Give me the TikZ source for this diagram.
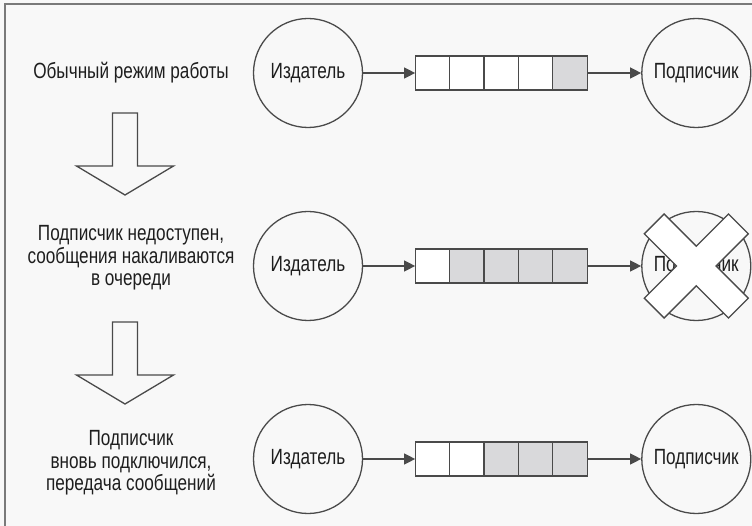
\documentclass[tikz,border=0pt]{standalone}
\usepackage{fontspec}
\setmainfont{Liberation Sans}[FakeStretch=0.78]
\usetikzlibrary{arrows.meta,positioning}
\definecolor{ink}{HTML}{1E1E1E}
\definecolor{edge}{HTML}{4A4A4A}
\definecolor{frame}{HTML}{7A7A7A}
\definecolor{paper}{HTML}{F8F8F8}
\definecolor{queued}{HTML}{D9D9DB}

\begin{document}
\begin{tikzpicture}[x=1pt,y=-1pt,>={Triangle[length=11pt,width=11pt]},font=\fontsize{22}{22.5}\selectfont,text=ink]
\useasboundingbox (0,0) rectangle (752,526);
\fill[paper] (0,0) rectangle (752,526);
\draw[frame,line width=1.5pt] (5,526)--(5,4)--(752,4);
\tikzset{party/.style={circle,draw=edge,line width=1.3pt,minimum size=109pt,inner sep=0pt},
  cell/.style={draw=edge,line width=1.3pt,minimum width=34.4pt,minimum height=34pt,inner sep=0pt,outer sep=0pt}}

% publisher -> queue -> subscriber, one row per state
\foreach \r/\y/\nq in {1/73/4,2/266/1,3/459/2}{
  \node[party] (pub\r) at (308,\y) {Издатель};
  \node[cell,fill=white,right=52pt of pub\r] (q\r1) {};
  \foreach \i [remember=\i as \p (initially 1)] in {2,...,5}{
    \ifnum\i>\nq\def\cellfill{queued}\else\def\cellfill{white}\fi
    \node[cell,fill=\cellfill,right=0pt of q\r\p] (q\r\i) {};
  }
  \node[party,right=54pt of q\r5] (sub\r) {Подписчик};
  \draw[->,edge,line width=1.3pt] (pub\r) -- (q\r1);
  \draw[->,edge,line width=1.3pt] (q\r5) -- (sub\r);
}

% subscriber offline
\begin{scope}[shift={(sub2.center)},rotate=45]
\draw[edge,fill=white,line width=1.3pt] (14,14) -- (59.5,14) -- (59.5,-14) -- (14,-14) -- (14,-59.5) -- (-14,-59.5) -- (-14,-14) -- (-59.5,-14) -- (-59.5,14) -- (-14,14) -- (-14,59.5) -- (14,59.5) -- cycle;
\end{scope}

% states
\node[align=center] (state1) at (131,73) {Обычный режим работы};
\node[align=center] (state2) at (131,258) {Подписчик недоступен,\\сообщения накаливаются\\в очереди};
\node[align=center] (state3) at (131,463) {Подписчик\\вновь подключился,\\передача сообщений};
\foreach \t in {113,322}
  \draw[edge,line width=1.3pt] (112.5,\t) -- (137.5,\t) -- (137.5,\t+53) -- (173.5,\t+53) -- (125,\t+82) -- (76.5,\t+53) -- (112.5,\t+53) -- cycle;
\end{tikzpicture}
\end{document}
